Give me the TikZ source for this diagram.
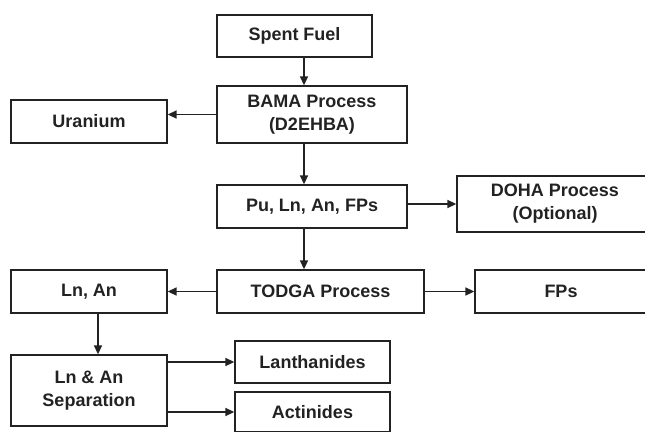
\documentclass[tikz,border=0pt]{standalone}
\usepackage{fontspec}
\setmainfont{Liberation Sans}
\usetikzlibrary{arrows.meta}
\definecolor{ink}{HTML}{222222}
\begin{document}
\begin{tikzpicture}[x=1pt,y=-1pt,
  box/.style={draw=ink,line width=1.3pt,inner sep=0pt,align=center,text=ink,
    font=\fontsize{18}{23}\selectfont\bfseries},
  arr/.style={draw=ink,line width=1.5pt,-{Triangle[length=9pt,width=8pt]}}]
\useasboundingbox (0,0) rectangle (645,431);
\clip (0,0) rectangle (645,431);
\node[box,minimum width=155,minimum height=42] (sf) at (294.5,36) {Spent Fuel};
\node[box,minimum width=190,minimum height=57] (bama) at (312,114.5) {BAMA Process\\(D2EHBA)};
\node[box,minimum width=156,minimum height=43] (ur) at (89,121.5) {Uranium};
\node[box,minimum width=190,minimum height=43] (pu) at (312,206.5) {Pu, Ln, An, FPs};
\node[box,minimum width=196,minimum height=56] (doha) at (555,204) {DOHA Process\\(Optional)};
\node[box,minimum width=207,minimum height=43] (todga) at (320.5,291.5) {TODGA Process};
\node[box,minimum width=156,minimum height=43] (lnan) at (89,291.5) {Ln, An};
\node[box,minimum width=172,minimum height=43] (fps) at (561,291.5) {FPs};
\node[box,minimum width=156,minimum height=71] (sep) at (89,390.5) {Ln \& An\\Separation};
\node[box,minimum width=155,minimum height=42] (lan) at (312.5,362) {Lanthanides};
\node[box,minimum width=155,minimum height=40] (act) at (312.5,412) {Actinides};
\coordinate (vx) at (304,0);
\coordinate (lx) at (98,0);
\draw[arr] (sf.south -| vx) -- (bama.north -| vx);
\draw[arr] (bama.west) -- (bama.west -| ur.east);
\draw[arr] (bama.south -| vx) -- (pu.north -| vx);
\draw[arr] (doha.west -| pu.east) -- (doha.west);
\draw[arr] (pu.south -| vx) -- (todga.north -| vx);
\draw[arr] (todga.west) -- (todga.west -| lnan.east);
\draw[arr] (todga.east) -- (todga.east -| fps.west);
\draw[arr] (lnan.south -| lx) -- (sep.north -| lx);
\draw[arr] (lan.west -| sep.east) -- (lan.west);
\draw[arr] (act.west -| sep.east) -- (act.west);
\end{tikzpicture}
\end{document}
